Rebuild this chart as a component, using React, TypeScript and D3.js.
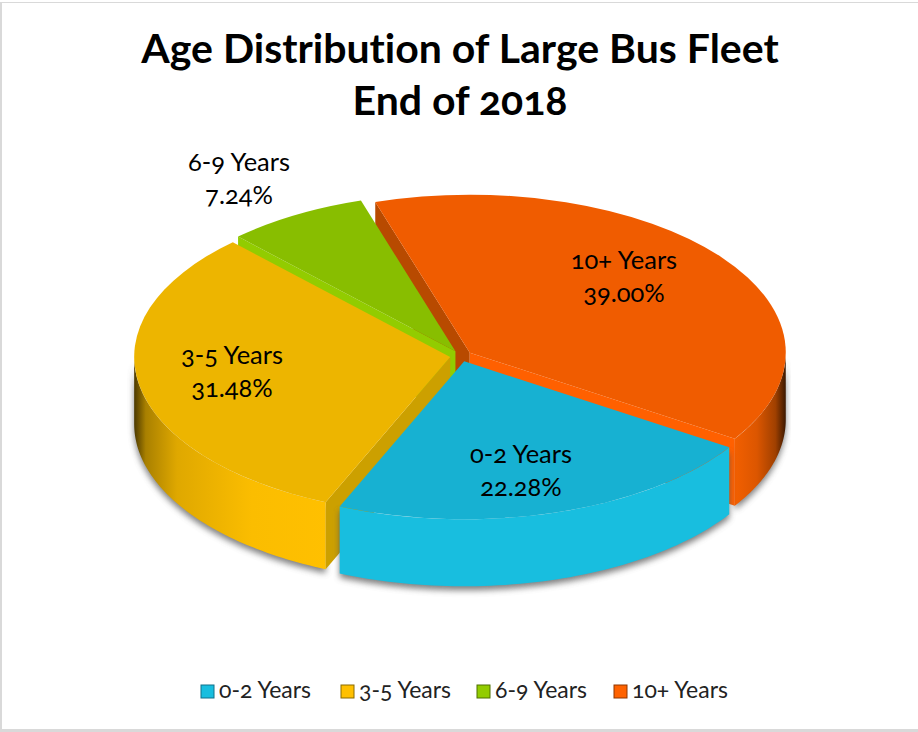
import React from 'react'
import * as d3 from 'd3'

const categories = ['0-2 Years', '3-5 Years', '6-9 Years', '10+ Years']
const shares = [22.28, 31.48, 7.24, 39.0]
const titleLines = ['Age Distribution of Large Bus Fleet', 'End of 2018']

const topColors = ['#17B1D2', '#EDB500', '#88BE00', '#F05C00']
const legendColors = ['#18BEDF', '#FFC000', '#92CC00', '#FF6200']
const legendBorders = ['#10708a', '#8a6a00', '#4f7000', '#8f3700']
const startCutColors = ['#18BEDF', '#CCA000', '#92CC00', '#B84A00']
const endCutColors = ['#18BEDF', '#FFC000', '#92CC00', '#FF6000']

const labelPos = [[521, 455], [232, 356], [239, 163], [624, 261]]
const legendX = [201, 341, 477, 614]

const FONT = 'Lato, "Open Sans", sans-serif'
const cx = 461
const cy = 356
const rx = 316
const ry = 158
const depth = 67
const explode = 11
const firstAngle = (123 * Math.PI) / 180

const pie = d3.pie<number>().sort(null).startAngle(firstAngle).endAngle(firstAngle + 2 * Math.PI)
const arcs = pie(shares)
const topArc = d3.arc<d3.PieArcDatum<number>>().innerRadius(0).outerRadius(rx)
const line = d3.line()

function edgePoint(a: number, x0: number, y0: number, dy = 0): [number, number] {
  return [x0 + rx * Math.sin(a), y0 - ry * Math.cos(a) + dy]
}

// outer rim, only the part that faces the viewer
function rimPath(start: number, end: number, x0: number, y0: number) {
  const steps: number[] = []
  let a0 = start
  let a1 = end
  const tau = 2 * Math.PI
  while (a0 > Math.PI * 1.5) { a0 -= tau; a1 -= tau }
  a0 = Math.max(a0, Math.PI / 2)
  a1 = Math.min(a1, Math.PI * 1.5)
  if (a1 <= a0) return null
  const n = 60
  for (let i = 0; i <= n; i++) steps.push(a0 + ((a1 - a0) * i) / n)
  const top = steps.map(a => edgePoint(a, x0, y0))
  const bottom = steps.slice().reverse().map(a => edgePoint(a, x0, y0, depth))
  return line([...top, ...bottom]) + 'Z'
}

function cutPath(a: number, x0: number, y0: number) {
  const p = edgePoint(a, x0, y0)
  return line([[x0, y0], p, [p[0], p[1] + depth], [x0, y0 + depth]]) + 'Z'
}

export default function App() {
  const drawOrder = [3, 2, 1, 0]
  return (
    <svg
      width={918}
      height={732}
      style={{
        position: 'absolute',
        left: 0,
        top: 0,
        background: '#fff',
        fontFamily: FONT,
        fontVariantNumeric: 'oldstyle-nums',
        fontVariantLigatures: 'none',
      }}
    >
      <defs>
        <linearGradient id="rim-yellow" gradientUnits="userSpaceOnUse" x1={134} x2={330} y1={0} y2={0}>
          <stop offset="0" stopColor="#4a3800" />
          <stop offset="0.06" stopColor="#a98000" />
          <stop offset="0.22" stopColor="#dfa800" />
          <stop offset="0.6" stopColor="#fbbd00" />
          <stop offset="1" stopColor="#ffc000" />
        </linearGradient>
        <linearGradient id="rim-orange" gradientUnits="userSpaceOnUse" x1={733} x2={786} y1={0} y2={0}>
          <stop offset="0" stopColor="#f46000" />
          <stop offset="0.45" stopColor="#dc5600" />
          <stop offset="0.8" stopColor="#a04000" />
          <stop offset="1" stopColor="#3a1700" />
        </linearGradient>
        <filter id="pie-shadow" x="-10%" y="-10%" width="120%" height="120%">
          <feGaussianBlur stdDeviation="3" />
        </filter>
      </defs>

      <rect x={0} y={2} width={918} height={1} fill="#d9d9d9" />
      <rect x={0} y={2} width={2} height={728} fill="#d9d9d9" />
      <rect x={0} y={729} width={918} height={3} fill="#d9d9d9" />

      {titleLines.map((t, i) => (
        <text key={t} x={460} y={63 + i * 52} textAnchor="middle" fontSize={41} fontWeight={700} fill="#000">{t}</text>
      ))}

      {drawOrder.map(i => {
        const d = arcs[i]
        const mid = (d.startAngle + d.endAngle) / 2
        const x0 = cx + explode * Math.sin(mid)
        const y0 = cy - (explode * ry * Math.cos(mid)) / rx
        const rim = rimPath(d.startAngle, d.endAngle, x0, y0)
        const rimFill = i === 1 ? 'url(#rim-yellow)' : i === 3 ? 'url(#rim-orange)' : legendColors[i]
        return (
          <g key={categories[i]}>
            {rim && <path d={rim} fill="#555" opacity={0.75} transform="translate(0,4)" filter="url(#pie-shadow)" />}
            {Math.sin(d.startAngle) < 0 && <path d={cutPath(d.startAngle, x0, y0)} fill={startCutColors[i]} />}
            {Math.sin(d.endAngle) > 0 && <path d={cutPath(d.endAngle, x0, y0)} fill={endCutColors[i]} />}
            {rim && <path d={rim} fill={rimFill} />}
            <path
              d={topArc(d) as string}
              fill={topColors[i]}
              transform={`translate(${x0},${y0}) scale(1,${ry / rx})`}
            />
          </g>
        )
      })}

      {categories.map((c, i) => (
        <g key={c} textAnchor="middle" fontSize={25.5} fill="#000">
          <text x={labelPos[i][0]} y={labelPos[i][1] + 8}>{c}</text>
          <text x={labelPos[i][0]} y={labelPos[i][1] + 41}>{d3.format('.2f')(shares[i])}%</text>
        </g>
      ))}

      {categories.map((c, i) => (
        <g key={c + '-legend'}>
          <rect x={legendX[i]} y={685} width={13} height={13} fill={legendColors[i]} stroke={legendBorders[i]} />
          <text x={legendX[i] + 18} y={698} fontSize={23} fill="#222">{c}</text>
        </g>
      ))}
    </svg>
  )
}
